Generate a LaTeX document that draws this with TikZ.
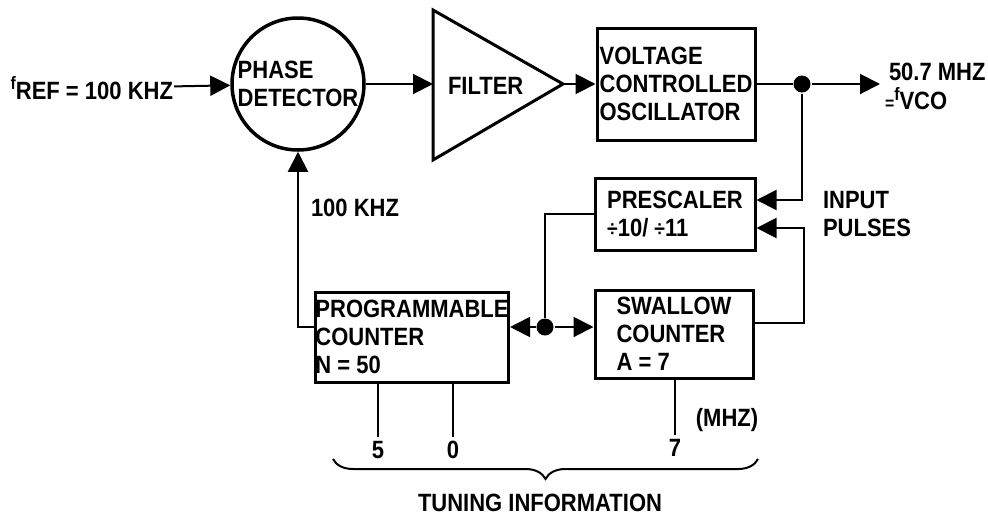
\documentclass[tikz,border=0pt]{standalone}
\usepackage{fontspec}
\setmainfont[FakeStretch=0.88]{Liberation Sans}
\usetikzlibrary{arrows.meta,decorations.pathreplacing}
\newcommand{\smf}{\fontsize{18}{18}\selectfont}
\begin{document}
\begin{tikzpicture}[x=1pt, y=-1pt, line width=2pt,
  font=\fontsize{25}{28}\selectfont\bfseries,
  blk/.style={draw, line width=3pt, align=left, inner sep=0pt},
  tip/.style={-{Triangle[length=20pt,width=20pt]}},
  dot/.style={circle, fill, inner sep=0pt, minimum size=17pt}]
\useasboundingbox (0,0) rectangle (988,515);
% forward path
\node[draw, circle, line width=3.5pt, minimum size=132pt, inner sep=0pt, align=left] (pd) at (298,84) {PHASE\\DETECTOR};
\node[anchor=east, inner sep=0pt] (fref) at (174,88) {\raisebox{10pt}{\smf f}REF = 100 KHZ};
\coordinate (ftop) at (433,10);
\coordinate (fbot) at (433,160);
\coordinate (fapex) at (563,84);
\coordinate (fin) at (433,84);
\draw[line width=3pt, line join=miter] (ftop) -- (fapex) -- (fbot) -- cycle;
\node[anchor=west, inner sep=0pt] (filter) at (447,86) {FILTER};
\node[blk, minimum width=158pt, minimum height=112pt] (vco) at (676,84) {VOLTAGE\\CONTROLLED\\OSCILLATOR};
\node[dot] (split) at (802,84) {};
\coordinate (out) at (880,84);
\node[anchor=south west, inner sep=0pt] (outlbl) at (888,82) {50.7 MHZ};
\node[anchor=north west, inner sep=0pt] (vcolbl) at (884,86) {{\smf =\raisebox{9pt}{f}}VCO};
\draw[tip] (fref) -- (pd);
\draw[tip] (pd) -- (fin);
\draw[tip] (fapex) -- (vco);
\draw (vco) -- (split);
\draw[tip] (split) -- (out);
% feedback path
\node[blk, minimum width=160pt, minimum height=72pt] (ps) at (675,214) {PRESCALER\\{\fontsize{22}{22}\selectfont\char"00F7}10/ {\fontsize{22}{22}\selectfont\char"00F7}11};
\node[blk, minimum width=158pt, minimum height=88pt] (sw) at (674,334) {SWALLOW\\COUNTER\\A = 7};
\node[blk, minimum width=191pt, minimum height=90pt] (pc) at (412,337) {PROGRAMMABLE\\COUNTER\\N = 50\hspace*{108pt}};
\node[dot] (jn) at (545,327) {};
\node[anchor=west, inner sep=0pt] (inlbl) at (822,214) [align=left] {INPUT\\PULSES};
\node[anchor=west, inner sep=0pt] (reflbl) at (310,208) {100 KHZ};
\draw[tip] (split) |- ([yshift=14pt]ps.east);
\draw[tip] ([yshift=11pt]sw.east) -- ++(49,0) |- ([yshift=-14pt]ps.east);
\draw (ps.west) -| (jn);
\draw[tip] (jn) -- (jn -| pc.east);
\draw[tip] (jn) -- (jn -| sw.west);
\draw[tip] (pc.west |- jn) -| (pd.south);
% tuning information
\node (d5) at (378,450) {5};
\node (d0) at (453,450) {0};
\node (d7) at (675,448) {7};
\node (mhz) at (727,420) {(MHZ)};
\draw (pc.south -| d5) -- (d5.north);
\draw (pc.south -| d0) -- (d0.north);
\draw (sw.south -| d7) -- (d7.north);
\coordinate (bl) at (333,459);
\coordinate (br) at (758,459);
\draw[decorate, decoration={brace, mirror, amplitude=20pt}] (bl) -- (br);
\node (tuning) at (540,503) {TUNING INFORMATION};
\end{tikzpicture}
\end{document}
